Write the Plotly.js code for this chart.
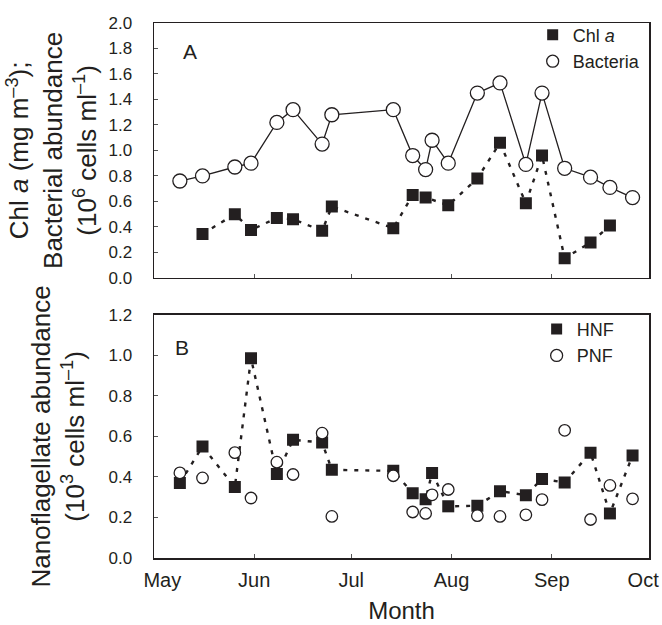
<!DOCTYPE html>
<html>
<head>
<meta charset="utf-8">
<script src="https://cdn.plot.ly/plotly-3.0.1.min.js"></script>
<style>html,body{margin:0;padding:0;background:#fff;}</style>
</head>
<body>
<div id="chart" style="width:662px;height:625px;"></div>
<script>
// ---- Data ----
const sampleDates = ["2000-05-09","2000-05-16","2000-05-26","2000-05-31","2000-06-08","2000-06-13","2000-06-22","2000-06-25","2000-07-14","2000-07-20","2000-07-24","2000-07-26","2000-07-31","2000-08-09","2000-08-16","2000-08-24","2000-08-29","2000-09-05","2000-09-13","2000-09-19","2000-09-26"];
const bacteria = [0.76,0.80,0.87,0.90,1.22,1.32,1.05,1.28,1.32,0.96,0.85,1.08,0.90,1.45,1.53,0.89,1.45,0.86,0.79,0.71,0.63];
const chlDates = ["2000-05-16","2000-05-26","2000-05-31","2000-06-08","2000-06-13","2000-06-22","2000-06-25","2000-07-14","2000-07-20","2000-07-24","2000-07-31","2000-08-09","2000-08-16","2000-08-24","2000-08-29","2000-09-05","2000-09-13","2000-09-19"];
const chlA = [0.345,0.50,0.376,0.47,0.46,0.37,0.56,0.39,0.65,0.63,0.57,0.78,1.06,0.585,0.96,0.154,0.277,0.41];
const hnf = [0.37,0.55,0.35,0.986,0.414,0.583,0.57,0.435,0.43,0.32,0.29,0.42,0.255,0.258,0.33,0.31,0.39,0.373,0.52,0.22,0.506];
const pnf = [0.42,0.395,0.52,0.296,0.473,0.412,0.616,0.205,0.406,0.227,0.22,0.312,0.338,0.209,0.205,0.213,0.288,0.63,0.19,0.358,0.292];
const monthTicks = ["2000-05-01","2000-06-01","2000-07-01","2000-08-01","2000-09-01","2000-10-01"];
const monthLabels = ["May","Jun","Jul","Aug","Sep","Oct"];
const topTicks = [0,0.2,0.4,0.6,0.8,1.0,1.2,1.4,1.6,1.8,2.0];
const bottomTicks = [0,0.2,0.4,0.6,0.8,1.0,1.2];

const FONT = "Liberation Sans, Arial, Helvetica, sans-serif";
const INK = "#231f20";
const sq = {symbol:"square", size:12, color:INK, line:{width:0}};
const circ = (s) => ({symbol:"circle", size:s, color:"#fff", line:{color:INK, width:1.3}});
// keep the first and last month labels inside the frame edges like in the reference
const NB = "\u00a0";
const monthText = monthLabels.map((m, i) =>
  i === 0 ? NB + NB + NB + m : (i === monthLabels.length - 1 ? m + NB + NB : m));

const traces = [
  // top panel
  {x:chlDates, y:chlA, xaxis:"x", yaxis:"y", mode:"lines+markers", showlegend:false,
   line:{color:INK, width:2.4, dash:"4px,7px"}, marker:sq},
  {x:sampleDates, y:bacteria, xaxis:"x", yaxis:"y", mode:"lines+markers", showlegend:false,
   line:{color:INK, width:1.3}, marker:circ(14)},
  {x:[null], y:[null], xaxis:"x", yaxis:"y", mode:"markers", name:"Chl <i>a</i>", legend:"legend", marker:{symbol:"square", size:11, color:INK}},
  {x:[null], y:[null], xaxis:"x", yaxis:"y", mode:"markers", name:"Bacteria", legend:"legend", marker:circ(12)},
  // bottom panel
  {x:sampleDates, y:hnf, xaxis:"x2", yaxis:"y2", mode:"lines+markers", showlegend:false,
   line:{color:INK, width:2.4, dash:"4px,7px"}, marker:sq},
  {x:sampleDates, y:pnf, xaxis:"x2", yaxis:"y2", mode:"markers", showlegend:false,
   marker:circ(11.5)},
  {x:[null], y:[null], xaxis:"x2", yaxis:"y2", mode:"markers", name:"HNF", legend:"legend2", marker:{symbol:"square", size:11, color:INK}},
  {x:[null], y:[null], xaxis:"x2", yaxis:"y2", mode:"markers", name:"PNF", legend:"legend2", marker:circ(12)}
];

const axisCommon = {showline:true, mirror:true, linecolor:INK, linewidth:1.5, showgrid:false, zeroline:false,
  ticks:"inside", ticklen:4, tickwidth:1, tickcolor:"#555"};
const xRange = ["2000-05-01","2000-10-01 02:00"];

const layout = {
  width:662, height:625,
  margin:{l:154, r:13, t:23, b:67},
  paper_bgcolor:"#fff", plot_bgcolor:"#fff",
  font:{family:FONT, color:INK},
  xaxis: Object.assign({}, axisCommon, {type:"date", domain:[0,1], anchor:"y", matches:"x2",
    range:xRange, tickvals:monthTicks, ticktext:monthText, showticklabels:false}),
  yaxis: Object.assign({}, axisCommon, {domain:[0.5236,1], anchor:"x", range:[0,2.0],
    tickvals:topTicks, tickformat:".1f", tickfont:{size:17, color:INK}, ticklabelstandoff:17,
    title:{text:"Chl <i>a</i> (mg m<sup>–3</sup>);<br>Bacterial abundance<br>(10<sup>6</sup> cells ml<sup>–1</sup>)", font:{size:26, color:INK}, standoff:4}}),
  xaxis2: Object.assign({}, axisCommon, {type:"date", domain:[0,1], anchor:"y2",
    range:xRange, tickvals:monthTicks, ticktext:monthText,
    tickfont:{size:20, color:INK}, ticklabelstandoff:3, ticklabeloverflow:"allow",
    title:{text:"Month", font:{size:24, color:INK}, standoff:12}}),
  yaxis2: Object.assign({}, axisCommon, {domain:[0,0.4545], anchor:"x2", range:[0,1.2],
    tickvals:bottomTicks, tickformat:".1f", tickfont:{size:17, color:INK}, ticklabelstandoff:17,
    title:{text:"Nanoflagellate abundance<br>(10<sup>3</sup> cells ml<sup>–1</sup>)", font:{size:26, color:INK}, standoff:16}}),
  legend:{x:0.765, y:1.012, xanchor:"left", yanchor:"top", bgcolor:"rgba(0,0,0,0)", borderwidth:0,
    font:{size:18, color:INK}, itemwidth:30, tracegroupgap:0},
  legend2:{x:0.773, y:0.462, xanchor:"left", yanchor:"top", bgcolor:"rgba(0,0,0,0)", borderwidth:0,
    font:{size:18, color:INK}, itemwidth:30, tracegroupgap:0},
  annotations:[
    {text:"A", xref:"paper", yref:"paper", x:(190-154)/495, y:(558.3-52)/535.3, showarrow:false, font:{size:21, color:INK}, xanchor:"center", yanchor:"middle"},
    {text:"B", xref:"paper", yref:"paper", x:(182-154)/495, y:(558.3-348)/535.3, showarrow:false, font:{size:21, color:INK}, xanchor:"center", yanchor:"middle"}
  ],
  showlegend:true
};

Plotly.newPlot("chart", traces, layout, {displayModeBar:false, staticPlot:true});
</script>
</body>
</html>
